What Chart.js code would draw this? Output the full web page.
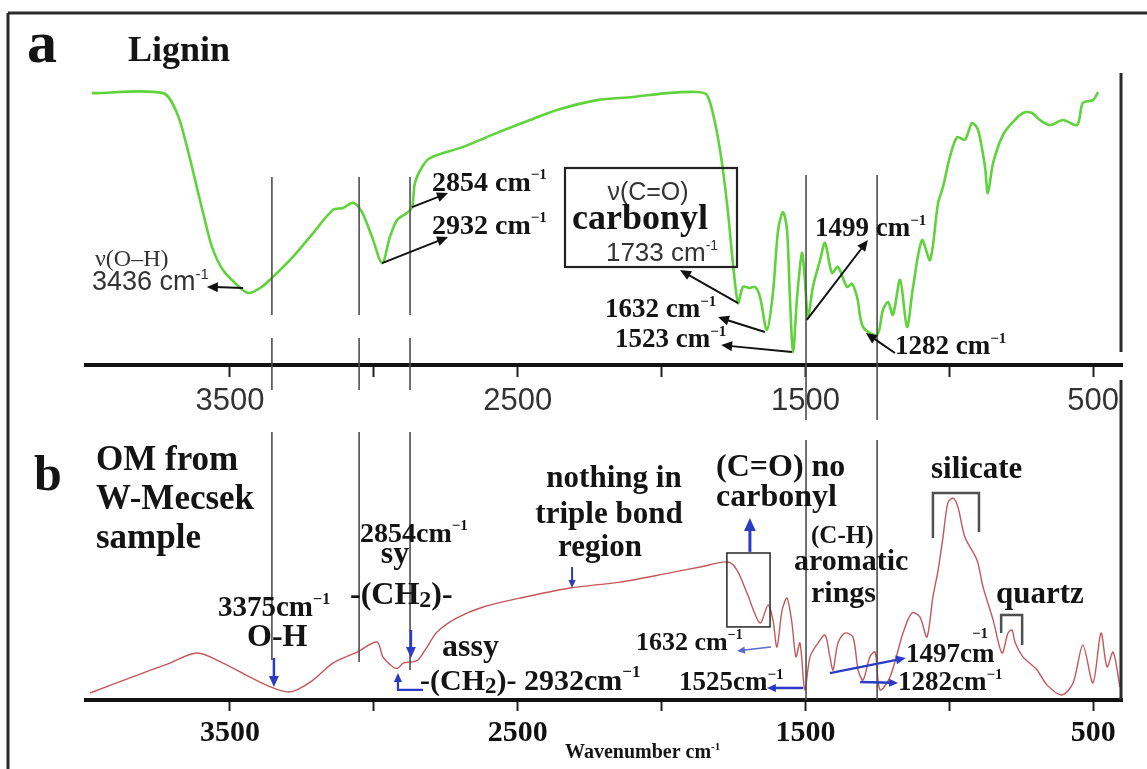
<!DOCTYPE html>
<html>
<head>
<meta charset="utf-8">
<title>FTIR lignin vs OM</title>
<script src="https://cdn.jsdelivr.net/npm/chart.js@4.4.0/dist/chart.umd.min.js"></script>
<style>
  html, body { margin: 0; padding: 0; background: #fff; }
  #wrap { position: relative; width: 1147px; height: 769px; overflow: hidden; }
  canvas { position: absolute; left: 0; top: 0; }
</style>
</head>
<body>
<div id="wrap">
  <canvas id="chartA" width="1147" height="769"></canvas>
  <canvas id="chartB" width="1147" height="769"></canvas>
</div>
<script>
// wavenumber axis
var tickValues = [3500, 3000, 2500, 2000, 1500, 1000, 500];
var tickLabels = [3500, 2500, 1500, 500];

// (a) lignin spectrum
var ligninWn = [3979, 3732, 3684, 3649, 3621, 3593, 3562, 3524, 3475, 3437, 3395, 3354, 3281, 3211, 3142, 3107, 3072, 3041, 3006, 2971,
  2944, 2919, 2885, 2867, 2857, 2832, 2805, 2690, 2572, 2457, 2363, 2224, 2099, 1981, 1877, 1842, 1814, 1790, 1769, 1752,
  1734, 1717, 1693, 1675, 1658, 1634, 1613, 1595, 1578, 1564, 1554, 1543, 1529, 1512, 1502, 1491, 1474, 1449, 1432, 1408,
  1387, 1356, 1338, 1320, 1300, 1251, 1231, 1213, 1196, 1171, 1147, 1126, 1095, 1067, 1039, 1022, 998, 973, 946, 921,
  900, 876, 866, 848, 814, 779, 744, 713, 685, 650, 605, 556, 536, 501, 483];
var ligninT = [97.1, 97.1, 90, 77.9, 66.1, 54.3, 42.1, 33.9, 28.6, 25.7, 27.5, 31.1, 38.6, 47.1, 55.4, 56.1, 57.9, 54.6, 45.7, 36.4,
  45.7, 51.8, 54.3, 56.4, 65, 70.7, 73.9, 77.9, 82.9, 87.5, 91.1, 94.6, 95.7, 97.1, 97.5, 96.4, 86.4, 72.1, 54.3, 36.4,
  22.1, 27.9, 27.5, 27.9, 24.3, 12.5, 25.7, 48.2, 54.6, 48.2, 24.3, 4.6, 24.3, 40, 30.4, 17.1, 27.9, 37.5, 43.6, 32.9,
  35, 27.9, 29, 24, 13.6, 10.7, 19.6, 22.5, 17.9, 30.4, 13.6, 27.9, 44.6, 37.5, 57.9, 63.6, 74.3, 81.4, 80.4, 86.4,
  83.9, 70.7, 61.4, 72.1, 82.1, 86.8, 90, 90, 87.5, 85.7, 87.5, 85.7, 93.6, 94.6, 97.5];

// (b) OM from W-Mecsek sample
var omWn = [3986, 3847, 3708, 3614, 3524, 3430, 3350, 3302, 3267, 3211, 3142, 3058, 2989, 2968, 2933, 2916, 2898, 2867, 2846, 2815,
  2780, 2711, 2620, 2492, 2318, 2144, 1971, 1866, 1769, 1738, 1703, 1658, 1630, 1613, 1599, 1581, 1564, 1547, 1533, 1519,
  1502, 1484, 1456, 1432, 1415, 1404, 1387, 1363, 1335, 1317, 1300, 1276, 1258, 1241, 1206, 1161, 1130, 1102, 1078, 1057,
  1039, 1022, 1005, 987, 970, 946, 904, 883, 848, 817, 796, 782, 772, 744, 695, 661, 609, 570, 536, 501,
  473, 452, 431, 407];
var omT = [2.5, 7.9, 13.2, 16.8, 13.2, 8.2, 4.3, 2.9, 3.6, 7.1, 13.2, 17.1, 20.7, 15.4, 11.8, 11.4, 13.2, 13.6, 14.3, 18.9,
  24.3, 29.3, 33.2, 36.4, 40, 42.1, 45.4, 47.5, 49.3, 46.4, 38.2, 27.5, 33.9, 28.6, 18.9, 32.1, 36.4, 27.5, 15.4, 20.4,
  3.6, 15.4, 20.4, 23.2, 15.4, 10.7, 20.4, 23.9, 22.5, 10.7, 7.1, 15.4, 17.1, 3.6, 8.2, 23.9, 31.1, 29.6, 22.5, 36.8,
  46.4, 58.2, 70.4, 72.1, 68.9, 58.2, 50, 40.4, 28.6, 16.8, 23.9, 25, 20.7, 15.4, 10.7, 5.4, 1.8, 6.1, 19.6, 6.1,
  23.9, 11.8, 17.1, 4.6];

// marker lines shared by both panels (cm-1)
var markerWn = [3354, 3051, 2874, 1498, 1251];

var SERIF = '"Liberation Serif", "Times New Roman", serif';
var SANS = '"Liberation Sans", Arial, sans-serif';
var BLUE = '#2a3cc4';
var AXIS_H = 60;

function splitRich(str) {
  var out = [], re = /\^\{([^}]*)\}|_\{([^}]*)\}/g, last = 0, m;
  while ((m = re.exec(str))) {
    if (m.index > last) out.push({ t: str.slice(last, m.index), k: 0 });
    out.push(m[1] !== undefined ? { t: m[1], k: 1 } : { t: m[2], k: -1 });
    last = re.lastIndex;
  }
  if (last < str.length) out.push({ t: str.slice(last), k: 0 });
  return out;
}

function drawRich(ctx, n) {
  var w = n.bold === false ? '' : 'bold ';
  var fam = n.family || SERIF;
  var ps = splitRich(n.s);
  var fontFor = function (k) {
    var sz = k === 0 ? n.size : Math.round(n.size * (k > 0 ? 0.55 : 0.75));
    return w + sz + 'px ' + fam;
  };
  var total = 0;
  ps.forEach(function (p) { ctx.font = fontFor(p.k); p.w = ctx.measureText(p.t).width; total += p.w; });
  var x = n.align === 'center' ? n.x - total / 2 : n.x;
  ctx.fillStyle = n.color || '#141414';
  ctx.textAlign = 'left';
  ctx.textBaseline = 'alphabetic';
  ps.forEach(function (p) {
    ctx.font = fontFor(p.k);
    var dy = p.k > 0 ? -n.size * 0.42 : (p.k < 0 ? n.size * 0.1 : 0);
    ctx.fillText(p.t, x, n.y + dy);
    x += p.w;
  });
}

function arrowHead(ctx, x1, y1, x2, y2, head) {
  var a = Math.atan2(y2 - y1, x2 - x1);
  ctx.beginPath();
  ctx.moveTo(x2, y2);
  ctx.lineTo(x2 - head * Math.cos(a) + head * 0.45 * Math.sin(a), y2 - head * Math.sin(a) - head * 0.45 * Math.cos(a));
  ctx.lineTo(x2 - head * Math.cos(a) - head * 0.45 * Math.sin(a), y2 - head * Math.sin(a) + head * 0.45 * Math.cos(a));
  ctx.closePath();
  ctx.fill();
}

// annotations: arrows, markers, brackets in data units (wavenumber, %); captions in page pixels
function makeNotes(notes) {
  return {
    id: 'notes',
    afterDraw: function (chart) {
      var ctx = chart.ctx, xs = chart.scales.x, ys = chart.scales.y;
      var px = function (w) { return xs.getPixelForValue(w); };
      var py = function (v) { return ys.getPixelForValue(v); };
      ctx.save();
      (notes.frame || []).forEach(function (f) {
        ctx.strokeStyle = '#2a2a2a'; ctx.lineWidth = f[4];
        ctx.beginPath(); ctx.moveTo(f[0], f[1]); ctx.lineTo(f[2], f[3]); ctx.stroke();
      });
      (notes.markers || []).forEach(function (m) {
        ctx.strokeStyle = '#4d4d4d'; ctx.lineWidth = 1.6;
        ctx.beginPath(); ctx.moveTo(px(m.wn), py(m.from)); ctx.lineTo(px(m.wn), py(m.to)); ctx.stroke();
      });
      (notes.boxes || []).forEach(function (b) {
        ctx.strokeStyle = b.color || '#222'; ctx.lineWidth = b.lw;
        if (b.data) ctx.strokeRect(px(b.data[0]), py(b.data[1]), px(b.data[2]) - px(b.data[0]), py(b.data[3]) - py(b.data[1]));
        else ctx.strokeRect(b.px[0], b.px[1], b.px[2], b.px[3]);
      });
      (notes.brackets || []).forEach(function (b) {
        ctx.strokeStyle = '#505050'; ctx.lineWidth = 2.5;
        ctx.beginPath();
        b.forEach(function (p, i) { if (i === 0) ctx.moveTo(px(p[0]), py(p[1])); else ctx.lineTo(px(p[0]), py(p[1])); });
        ctx.stroke();
      });
      (notes.arrows || []).forEach(function (a) {
        var pts = a.pts.map(function (p) { return [px(p[0]), py(p[1])]; });
        ctx.strokeStyle = a.color; ctx.fillStyle = a.color; ctx.lineWidth = a.lw;
        var n = pts.length, last = pts[n - 1], prev = pts[n - 2];
        var ang = Math.atan2(last[1] - prev[1], last[0] - prev[0]);
        ctx.beginPath();
        pts.forEach(function (p, i) {
          var q = i === n - 1 ? [p[0] - Math.cos(ang) * a.head * 0.7, p[1] - Math.sin(ang) * a.head * 0.7] : p;
          if (i === 0) ctx.moveTo(q[0], q[1]); else ctx.lineTo(q[0], q[1]);
        });
        ctx.stroke();
        arrowHead(ctx, prev[0], prev[1], last[0], last[1], a.head);
      });
      (notes.texts || []).forEach(function (t) { drawRich(ctx, t); });
      ctx.restore();
    }
  };
}

var notesA = {
  frame: [[8, 13, 1147, 13, 3], [8, 13, 8, 769, 3], [1121, 73, 1121, 352, 3]],
  markers: [
    { wn: markerWn[0], from: 67.1, to: 17.9 }, { wn: markerWn[0], from: 9.6, to: -8.9 },
    { wn: markerWn[1], from: 67.1, to: 17.9 }, { wn: markerWn[1], from: 9.6, to: -8.9 },
    { wn: markerWn[2], from: 67.1, to: 17.9 }, { wn: markerWn[2], from: 9.6, to: -8.9 },
    { wn: markerWn[3], from: 67.9, to: -19.6 }, { wn: markerWn[4], from: 67.9, to: -19.6 }
  ],
  boxes: [{ px: [565, 168, 172, 99], lw: 2.2 }],
  arrows: [
    { pts: [[3454, 27.5], [3580, 27.9]], color: '#111', lw: 2, head: 11 },
    { pts: [[2867, 56.4], [2742, 61.4]], color: '#111', lw: 2, head: 11 },
    { pts: [[2971, 36.4], [2742, 45.7]], color: '#111', lw: 2, head: 11 },
    { pts: [[1734, 22.1], [1936, 33.9]], color: '#111', lw: 2, head: 11 },
    { pts: [[1641, 11.8], [1804, 17.1]], color: '#111', lw: 2, head: 11 },
    { pts: [[1547, 4.6], [1793, 7.1]], color: '#111', lw: 2, head: 11 },
    { pts: [[1495, 16.1], [1283, 44.6]], color: '#111', lw: 2, head: 11 },
    { pts: [[1189, 4.3], [1290, 11.4]], color: '#111', lw: 2, head: 11 }
  ],
  texts: [
    { s: 'a', x: 27, y: 62, size: 60 },
    { s: 'Lignin', x: 128, y: 61, size: 36 },
    { s: 'ν(O–H)', x: 95, y: 266, size: 24, bold: false, color: '#333' },
    { s: '3436 cm^{-1}', x: 92, y: 290, size: 27, bold: false, family: SANS, color: '#333' },
    { s: '2854 cm^{−1}', x: 432, y: 191, size: 28 },
    { s: '2932 cm^{−1}', x: 432, y: 234, size: 28 },
    { s: 'ν(C=O)', x: 648, y: 200, size: 25, bold: false, family: SANS, color: '#333', align: 'center' },
    { s: 'carbonyl', x: 640, y: 229, size: 36, align: 'center' },
    { s: '1733 cm^{-1}', x: 662, y: 261, size: 26, bold: false, family: SANS, color: '#333', align: 'center' },
    { s: '1632 cm^{−1}', x: 605, y: 317, size: 27 },
    { s: '1523 cm^{−1}', x: 615, y: 347, size: 27 },
    { s: '1499 cm^{−1}', x: 815, y: 236, size: 27 },
    { s: '1282 cm^{−1}', x: 895, y: 354, size: 27 }
  ]
};

var notesB = {
  frame: [[1121, 380, 1121, 700, 3]],
  markers: [
    { wn: markerWn[0], from: 95.7, to: 14.3 },
    { wn: markerWn[1], from: 95.7, to: 13.6 },
    { wn: markerWn[2], from: 95.7, to: 10.7 },
    { wn: markerWn[3], from: 92.9, to: 0 },
    { wn: markerWn[4], from: 92.9, to: 0 }
  ],
  boxes: [{ data: [1773, 52.5, 1623, 26.1], lw: 1.6, color: '#333' }],
  brackets: [
    [[1057, 57.9], [1057, 73.9], [897, 73.9], [897, 60]],
    [[820, 23.9], [820, 30.4], [747, 30.4], [747, 19.6]]
  ],
  arrows: [
    { pts: [[3347, 15], [3347, 4.6]], color: BLUE, lw: 2.5, head: 11 },
    { pts: [[2871, 25], [2871, 15]], color: BLUE, lw: 2.5, head: 11 },
    { pts: [[2829, 3.6], [2916, 3.6], [2916, 9.6]], color: BLUE, lw: 2.2, head: 9 },
    { pts: [[2311, 47.5], [2311, 40]], color: BLUE, lw: 2, head: 8 },
    { pts: [[1693, 52.9], [1693, 65]], color: BLUE, lw: 3, head: 13 },
    { pts: [[1620, 18.9], [1738, 17.5]], color: '#5a6ad0', lw: 1.5, head: 8 },
    { pts: [[1508, 4.3], [1634, 4.3]], color: BLUE, lw: 2.5, head: 9 },
    { pts: [[1415, 9.6], [1151, 15]], color: BLUE, lw: 2.5, head: 10 },
    { pts: [[1310, 6.4], [1178, 6.1]], color: BLUE, lw: 2.5, head: 9 }
  ],
  texts: [
    { s: 'b', x: 34, y: 490, size: 50 },
    { s: 'OM from', x: 96, y: 470, size: 35 },
    { s: 'W-Mecsek', x: 96, y: 509, size: 35 },
    { s: 'sample', x: 96, y: 548, size: 35 },
    { s: '3375cm^{−1}', x: 218, y: 616, size: 29 },
    { s: 'O-H', x: 247, y: 646, size: 32 },
    { s: '2854cm^{−1}', x: 360, y: 542, size: 28 },
    { s: 'sy', x: 395, y: 563, size: 32, align: 'center' },
    { s: '-(CH_{2})-', x: 350, y: 604, size: 32 },
    { s: 'assy', x: 442, y: 656, size: 32 },
    { s: '-(CH_{2})- 2932cm^{−1}', x: 420, y: 690, size: 30 },
    { s: 'nothing in', x: 614, y: 487, size: 31, align: 'center' },
    { s: 'triple bond', x: 609, y: 523, size: 31, align: 'center' },
    { s: 'region', x: 600, y: 556, size: 31, align: 'center' },
    { s: '(C=O) no', x: 716, y: 476, size: 32 },
    { s: 'carbonyl', x: 716, y: 506, size: 32 },
    { s: '(C-H)', x: 811, y: 543, size: 25 },
    { s: 'aromatic', x: 794, y: 570, size: 30 },
    { s: 'rings', x: 811, y: 602, size: 30 },
    { s: 'silicate', x: 931, y: 478, size: 31 },
    { s: 'quartz', x: 996, y: 603, size: 31 },
    { s: '1632 cm^{−1}', x: 636, y: 650, size: 26 },
    { s: '1525cm^{−1}', x: 679, y: 690, size: 27 },
    { s: '1497cm', x: 906, y: 662, size: 27 },
    { s: '^{−1}', x: 972, y: 649, size: 27 },
    { s: '1282cm^{−1}', x: 898, y: 690, size: 27 },
    { s: 'Wavenumber cm^{-1}', x: 565, y: 758, size: 20 }
  ]
};

function points(wn, t) {
  return wn.map(function (w, i) { return { x: w, y: t[i] }; });
}

function xAxis(font, color, pad, tickLen) {
  return {
    type: 'linear', reverse: true, min: 400, max: 4000,
    afterBuildTicks: function (s) { s.ticks = tickValues.map(function (v) { return { value: v }; }); },
    afterFit: function (s) { s.height = AXIS_H; },
    border: { display: true, width: 4, color: '#111' },
    grid: { drawOnChartArea: false, drawTicks: true, tickLength: tickLen, tickWidth: 2, tickColor: '#222' },
    ticks: {
      autoSkip: false, maxRotation: 0, padding: pad, color: color, font: font,
      callback: function (v) { return tickLabels.indexOf(v) >= 0 ? String(v) : ''; }
    }
  };
}

new Chart(document.getElementById('chartA'), {
  type: 'line',
  data: { datasets: [{ data: points(ligninWn, ligninT), borderColor: '#5fd33c', borderWidth: 2.6, pointRadius: 0, tension: 0.3 }] },
  options: {
    responsive: false, animation: false, devicePixelRatio: 1,
    layout: { padding: { left: 86, right: 25, top: 85, bottom: 769 - 365 - AXIS_H } },
    plugins: { legend: { display: false }, tooltip: { enabled: false } },
    scales: {
      x: xAxis({ family: SANS, size: 31 }, '#333', 6, 12),
      y: { display: false, min: 0, max: 100 }
    }
  },
  plugins: [makeNotes(notesA)]
});

new Chart(document.getElementById('chartB'), {
  type: 'line',
  data: { datasets: [{ data: points(omWn, omT), borderColor: '#c4575a', borderWidth: 1.4, pointRadius: 0, tension: 0.3 }] },
  options: {
    responsive: false, animation: false, devicePixelRatio: 1,
    layout: { padding: { left: 86, right: 25, top: 420, bottom: 769 - 700 - AXIS_H } },
    plugins: { legend: { display: false }, tooltip: { enabled: false } },
    scales: {
      x: xAxis({ family: SERIF, size: 30, weight: 'bold' }, '#111', 4, 11),
      y: { display: false, min: 0, max: 100 }
    }
  },
  plugins: [makeNotes(notesB)]
});
</script>
</body>
</html>
